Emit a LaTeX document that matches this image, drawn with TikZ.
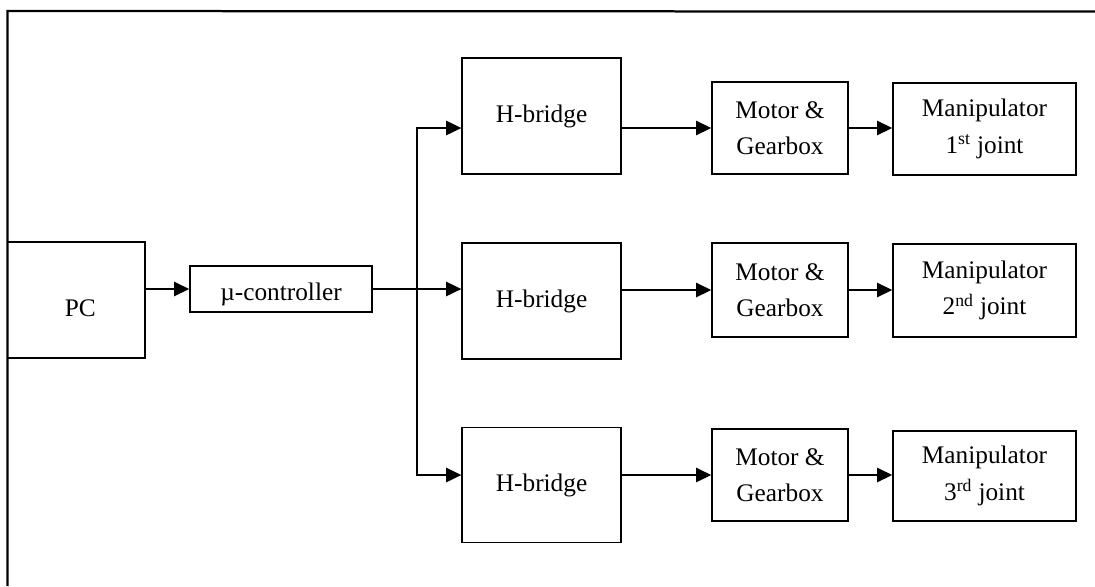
\documentclass[tikz,border=0pt]{standalone}
\usepackage{fontspec}
\setmainfont{Liberation Serif}
\usepackage{tikz}
\usetikzlibrary{calc,positioning,arrows.meta}

\tikzset{
	blk/.style={rectangle,draw,line width=1.1pt,align=center,inner sep=0pt,
		font=\fontsize{18}{26}\selectfont},
	arr/.style={line width=1pt,-{Triangle[length=0.38cm,width=0.36cm]}},
}

\begin{document}
\begin{tikzpicture}
		\useasboundingbox (0,0) rectangle (27.375,-14.65);
		
		% outer frame (left and top edge only)
		\draw[line width=1.6pt] (0.19,-14.65) -- (0.19,-0.275) -- (27.375,-0.29);
		
		\node[blk, minimum width=3.44cm, minimum height=2.9cm] (PC) at (1.906,-7.5) {\hspace*{0.2cm}\raisebox{-0.2cm}[\height][\depth]{PC}};
		
		\node[blk, minimum width=4.55cm, minimum height=1.15cm] (UC) at (7.025,-7.225) {\raisebox{-0.13cm}[\height][\depth]{µ-controller}};
		
		\node[blk, minimum width=3.975cm, minimum height=2.9cm] (HB1) at (13.54,-2.9) {H-bridge};
		\node[blk, minimum width=3.975cm, minimum height=2.9cm] (HB2) at (13.54,-7.525) {H-bridge};
		\node[blk, minimum width=3.975cm, minimum height=2.875cm] (HB3) at (13.54,-12.125) {H-bridge};
		
		\node[blk, minimum width=3.4cm, minimum height=2.3cm] (MG1) at (19.5,-3.2) {Motor \&\\Gearbox};
		\node[blk, minimum width=3.4cm, minimum height=2.35cm] (MG2) at (19.5,-7.25) {Motor \&\\Gearbox};
		\node[blk, minimum width=3.4cm, minimum height=2.3cm] (MG3) at (19.5,-11.875) {Motor \&\\Gearbox};
		
		\node[blk, minimum width=4.575cm, minimum height=2.3cm] (MJ1) at (24.6125,-3.225) {Manipulator\\1\textsuperscript{st} joint};
		\node[blk, minimum width=4.575cm, minimum height=2.325cm] (MJ2) at (24.6125,-7.2625) {Manipulator\\2\textsuperscript{nd} joint};
		\node[blk, minimum width=4.575cm, minimum height=2.25cm] (MJ3) at (24.6125,-11.9) {Manipulator\\3\textsuperscript{rd} joint};
		
		\coordinate (split) at (10.425,-7.225);
		
		\draw[arr] (PC.east |- UC.west) -- (UC.west);
		\draw[arr] (UC.east) -- (HB2.west |- UC.east);
		\draw[arr] (split) |- (HB1.west |- MG1.west);
		\draw[arr] (split) |- (HB3.west |- MG3.west);
		
		\draw[arr] (HB1.east |- MG1.west) -- (MG1.west);
		\draw[arr] (HB2.east |- MG2.west) -- (MG2.west);
		\draw[arr] (HB3.east |- MG3.west) -- (MG3.west);
		
		\draw[arr] (MG1.east) -- (MJ1.west |- MG1.east);
		\draw[arr] (MG2.east) -- (MJ2.west |- MG2.east);
		\draw[arr] (MG3.east) -- (MJ3.west |- MG3.east);
		\end{tikzpicture}
\end{document}
